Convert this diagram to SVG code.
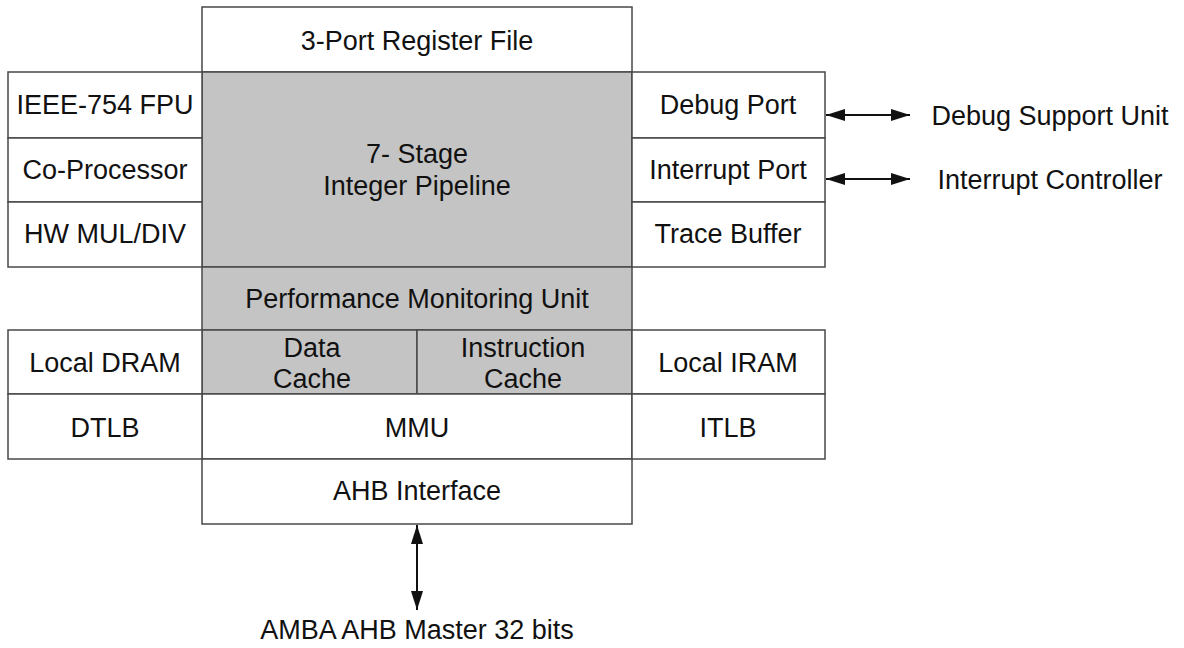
<svg xmlns="http://www.w3.org/2000/svg" width="1184" height="648" viewBox="0 0 1184 648">
<style>
.box{fill:#ffffff;stroke:#484848;stroke-width:1.5}
.gray{fill:#c4c4c4;stroke:#484848;stroke-width:1.5}
text{font-family:"Liberation Sans",Arial,sans-serif;font-size:27px;fill:#111;text-anchor:middle}
.conn{stroke:#111;stroke-width:2;fill:none;marker-start:url(#ah);marker-end:url(#ah)}
</style>
<defs>
<marker id="ah" markerUnits="userSpaceOnUse" markerWidth="20" markerHeight="14" refX="19" refY="7" orient="auto-start-reverse">
<path d="M0,1 L19,7 L0,13 z" fill="#111"/>
</marker>
</defs>
<rect width="1184" height="648" fill="#ffffff"/>
<g id="regfile"><rect class="box" x="202" y="7" width="430" height="65"/><text x="417" y="50">3-Port Register File</text></g>
<g id="pipeline"><rect class="gray" x="202" y="72" width="430" height="195"/><text x="417" y="163">7- Stage</text><text x="417" y="195">Integer Pipeline</text></g>
<g id="pmu"><rect class="gray" x="202" y="267" width="430" height="63"/><text x="417" y="308">Performance Monitoring Unit</text></g>
<g id="dcache"><rect class="gray" x="202" y="330" width="215" height="64"/><text x="312" y="357">Data</text><text x="312" y="388">Cache</text></g>
<g id="icache"><rect class="gray" x="417" y="330" width="215" height="64"/><text x="523" y="357">Instruction</text><text x="523" y="388">Cache</text></g>
<g id="mmu"><rect class="box" x="202" y="394" width="430" height="65"/><text x="417" y="437">MMU</text></g>
<g id="ahb"><rect class="box" x="202" y="459" width="430" height="65"/><text x="417" y="500">AHB Interface</text></g>
<g id="fpu"><rect class="box" x="8" y="72" width="194" height="66"/><text x="105" y="114">IEEE-754 FPU</text></g>
<g id="coproc"><rect class="box" x="8" y="138" width="194" height="64"/><text x="105" y="179">Co-Processor</text></g>
<g id="muldiv"><rect class="box" x="8" y="202" width="194" height="65"/><text x="105" y="243">HW MUL/DIV</text></g>
<g id="dram"><rect class="box" x="8" y="330" width="194" height="64"/><text x="105" y="372">Local DRAM</text></g>
<g id="dtlb"><rect class="box" x="8" y="394" width="194" height="65"/><text x="105" y="437">DTLB</text></g>
<g id="debugport"><rect class="box" x="632" y="72" width="193" height="66"/><text x="728" y="114">Debug Port</text></g>
<g id="irqport"><rect class="box" x="632" y="138" width="193" height="64"/><text x="728" y="179">Interrupt Port</text></g>
<g id="trace"><rect class="box" x="632" y="202" width="193" height="65"/><text x="728" y="243">Trace Buffer</text></g>
<g id="iram"><rect class="box" x="632" y="330" width="193" height="64"/><text x="728" y="372">Local IRAM</text></g>
<g id="itlb"><rect class="box" x="632" y="394" width="193" height="65"/><text x="728" y="437">ITLB</text></g>
<g id="dsu"><text x="1050" y="125">Debug Support Unit</text></g>
<g id="irqctrl"><text x="1050" y="189">Interrupt Controller</text></g>
<g id="amba"><text x="417" y="639">AMBA AHB Master 32 bits</text></g>
<g id="connectors">
<line class="conn" x1="826" y1="115" x2="910" y2="115"/>
<line class="conn" x1="826" y1="179" x2="910" y2="179"/>
<line class="conn" x1="417" y1="525" x2="417" y2="610"/>
</g>
</svg>
